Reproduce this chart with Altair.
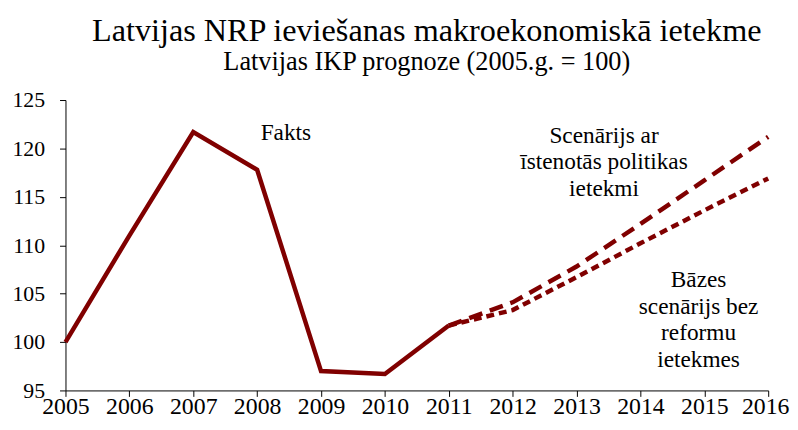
import altair as alt
import pandas as pd

# Data
years_fact = [2005, 2006, 2007, 2008, 2009, 2010, 2011]
fact = [100.0, 111.0, 121.7, 117.8, 97.0, 96.7, 101.7]
years_fc = [2011, 2012, 2013, 2014, 2015, 2016]
scenario = [101.7, 104.1, 107.8, 112.2, 116.7, 121.2]
base = [101.7, 103.3, 106.7, 110.2, 113.6, 116.9]

ann_text = ["Fakts", "Scenārijs ar\nīstenotās politikas\nietekmi", "Bāzes\nscenārijs bez\nreformu\nietekmes"]
ann_year = [2008.45, 2013.43, 2014.91]
ann_value = [120.9, 120.6, 105.7]

x_ticks = list(range(2005, 2017))
y_ticks = [95, 100, 105, 110, 115, 120, 125]

COLOR = "#800000"
FONT = "Liberation Serif"

df_fact = pd.DataFrame({"year": years_fact, "value": fact})
df_scen = pd.DataFrame({"year": years_fc, "value": scenario})
df_base = pd.DataFrame({"year": years_fc, "value": base})
df_ann = pd.DataFrame({"year": ann_year, "value": ann_value, "text": ann_text})

xenc = alt.X("year:Q", scale=alt.Scale(domain=[2005, 2016], nice=False, zero=False),
             axis=alt.Axis(values=x_ticks, format="d", title=None, grid=False,
                           labelFont=FONT, labelFontSize=24, labelColor="black",
                           domainColor="black", tickColor="black", tickSize=6,
                           labelBaseline="alphabetic", labelPadding=17, labelFlush=False,
                           labelOffset=alt.expr("datum.value == 2016 ? -3 : 0")))
yenc = alt.Y("value:Q", scale=alt.Scale(domain=[95, 125], nice=False, zero=False),
             axis=alt.Axis(values=y_ticks, title=None, grid=False,
                           labelFont=FONT, labelFontSize=22, labelColor="black",
                           domainColor="black", tickColor="black", tickSize=6,
                           labelPadding=15))

fact_line = alt.Chart(df_fact).mark_line(color=COLOR, strokeWidth=4.5, strokeJoin="miter").encode(x=xenc, y=yenc)
scen_line = alt.Chart(df_scen).mark_line(color=COLOR, strokeWidth=4.5, strokeDash=[14, 8]).encode(x=xenc, y=yenc)
base_line = alt.Chart(df_base).mark_line(color=COLOR, strokeWidth=4.5, strokeDash=[8, 5]).encode(x=xenc, y=yenc)

labels = alt.Chart(df_ann).mark_text(font=FONT, fontSize=23.5, color="black", align="center",
                                     baseline="alphabetic", lineBreak="\n", lineHeight=27).encode(
    x=alt.X("year:Q"), y=alt.Y("value:Q"), text="text:N")

chart = alt.layer(fact_line, scen_line, base_line, labels).properties(
    width=709, height=293,
    title=alt.Title(text="Latvijas NRP ieviešanas makroekonomiskā ietekme",
                    subtitle="Latvijas IKP prognoze (2005.g. = 100)",
                    font=FONT, subtitleFont=FONT, fontSize=32.5, subtitleFontSize=26.5,
                    fontWeight="normal", color="black", subtitleColor="black",
                    anchor="middle", offset=14, dx=10, subtitlePadding=2),
    autosize=alt.AutoSizeParams(type="none"),
    padding={"left": 58, "top": 91, "right": 22, "bottom": 30},
).configure(font=FONT).configure_view(stroke=None)

chart.save("out.html", embed_options={"renderer": "svg", "actions": False})
